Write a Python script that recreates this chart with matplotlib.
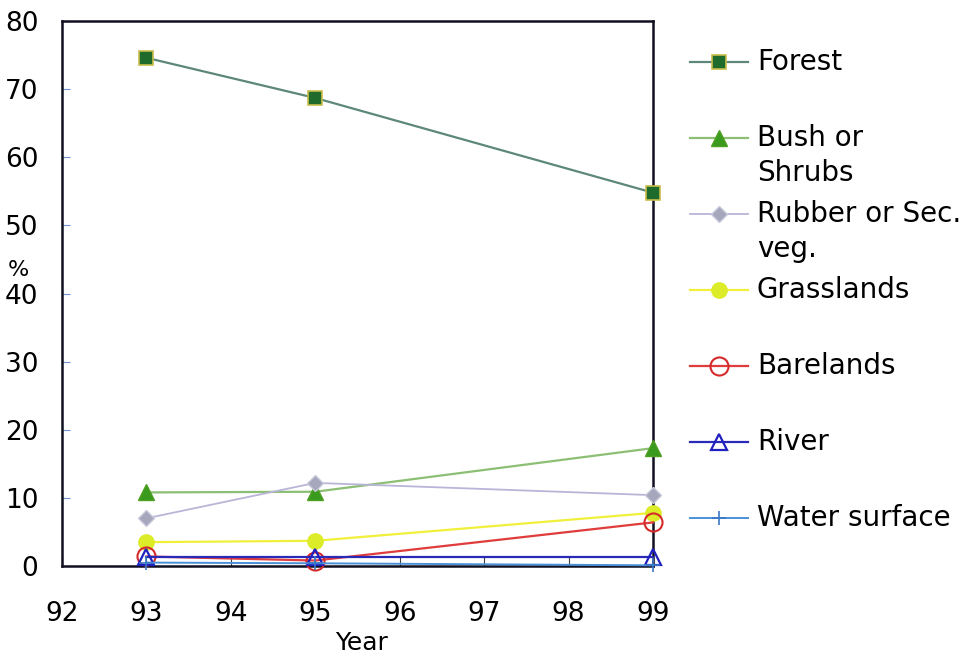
import matplotlib.pyplot as plt
from matplotlib.ticker import MultipleLocator

plt.rcParams["font.family"] = ["DejaVu Sans"]

# --- data -----------------------------------------------------------------
years = [93, 95, 99]
forest = [74.6, 68.7, 54.8]
bush = [10.8, 10.9, 17.3]
rubber = [7.0, 12.2, 10.4]
grass = [3.5, 3.7, 7.8]
bare = [1.4, 0.8, 6.4]
river = [1.3, 1.3, 1.3]
water = [0.5, 0.4, 0.1]

labels = ["Forest", "Bush or\nShrubs", "Rubber or Sec.\nveg.", "Grasslands",
          "Barelands", "River", "Water surface"]
values = [forest, bush, rubber, grass, bare, river, water]

STYLES = [
    dict(color="#5d8878", lw=1.6, marker="s", ms=10, mfc="#1f6b2b", mec="#c9bc4c", mew=1.2),
    dict(color="#8cbf74", lw=1.6, marker="^", ms=11, mfc="#3a9a1e", mec="#4f9f22", mew=1.0),
    dict(color="#b9b5d8", lw=1.3, marker="D", ms=8, mfc="#a6a6bc", mec="#c9c9dc", mew=1.0),
    dict(color="#f0f03a", lw=1.6, marker="o", ms=11, mfc="#dcec28", mec="#dcec28", mew=1.0),
    dict(color="#e03c3c", lw=1.6, marker="o", ms=13, mfc="none", mec="#d42a2a", mew=1.5),
    dict(color="#2a2ab8", lw=1.6, marker="^", ms=11, mfc="none", mec="#2020c0", mew=1.6),
    dict(color="#4a90d8", lw=1.4, marker="+", ms=10, mfc="none", mec="#3a78c8", mew=1.2),
]


def main():
    fig = plt.figure(figsize=(9.77, 6.59), dpi=100)
    ax = fig.add_axes([62 / 977, 1 - 566 / 659, 591 / 977, 545 / 659])

    for vals, st in zip(values, STYLES):
        ax.plot(years, vals, clip_on=False, zorder=3, **st)

    ax.set_xlim(92, 99)
    ax.set_ylim(0, 80)
    ax.xaxis.set_major_locator(MultipleLocator(1))
    ax.yaxis.set_major_locator(MultipleLocator(10))
    ax.tick_params(axis="y", direction="in", length=6, color="#7090d0",
                   labelsize=19, pad=17)
    ax.tick_params(axis="x", direction="in", length=7, color="#404040",
                   labelsize=19, pad=25)
    for sp in ax.spines.values():
        sp.set_linewidth(1.8)
        sp.set_color("#101020")

    fig.text(18 / 977, 1 - 270 / 659, "%", fontsize=16, ha="center", va="center")
    fig.text(362 / 977, 1 - 643 / 659, "Year", fontsize=18, ha="center", va="center")

    # hand-placed legend, handles aligned with the first text line
    lax = fig.add_axes([0, 0, 1, 1], zorder=-1)
    lax.set_xlim(0, 977)
    lax.set_ylim(659, 0)
    lax.axis("off")
    row_y = [62, 138, 214, 290, 366, 442, 518]
    for lab, st, y in zip(labels, STYLES, row_y):
        lax.plot([690, 748], [y, y], color=st["color"], lw=st["lw"])
        mst = {k: v for k, v in st.items() if k not in ("color", "lw")}
        lax.plot([719], [y], ls="none", **mst)
        lax.text(757, y - 14, lab, fontsize=20, ha="left", va="top",
                 linespacing=1.3)

    fig.savefig("out.png", dpi=100, facecolor="white")
    plt.close(fig)


if __name__ == "__main__":
    main()
